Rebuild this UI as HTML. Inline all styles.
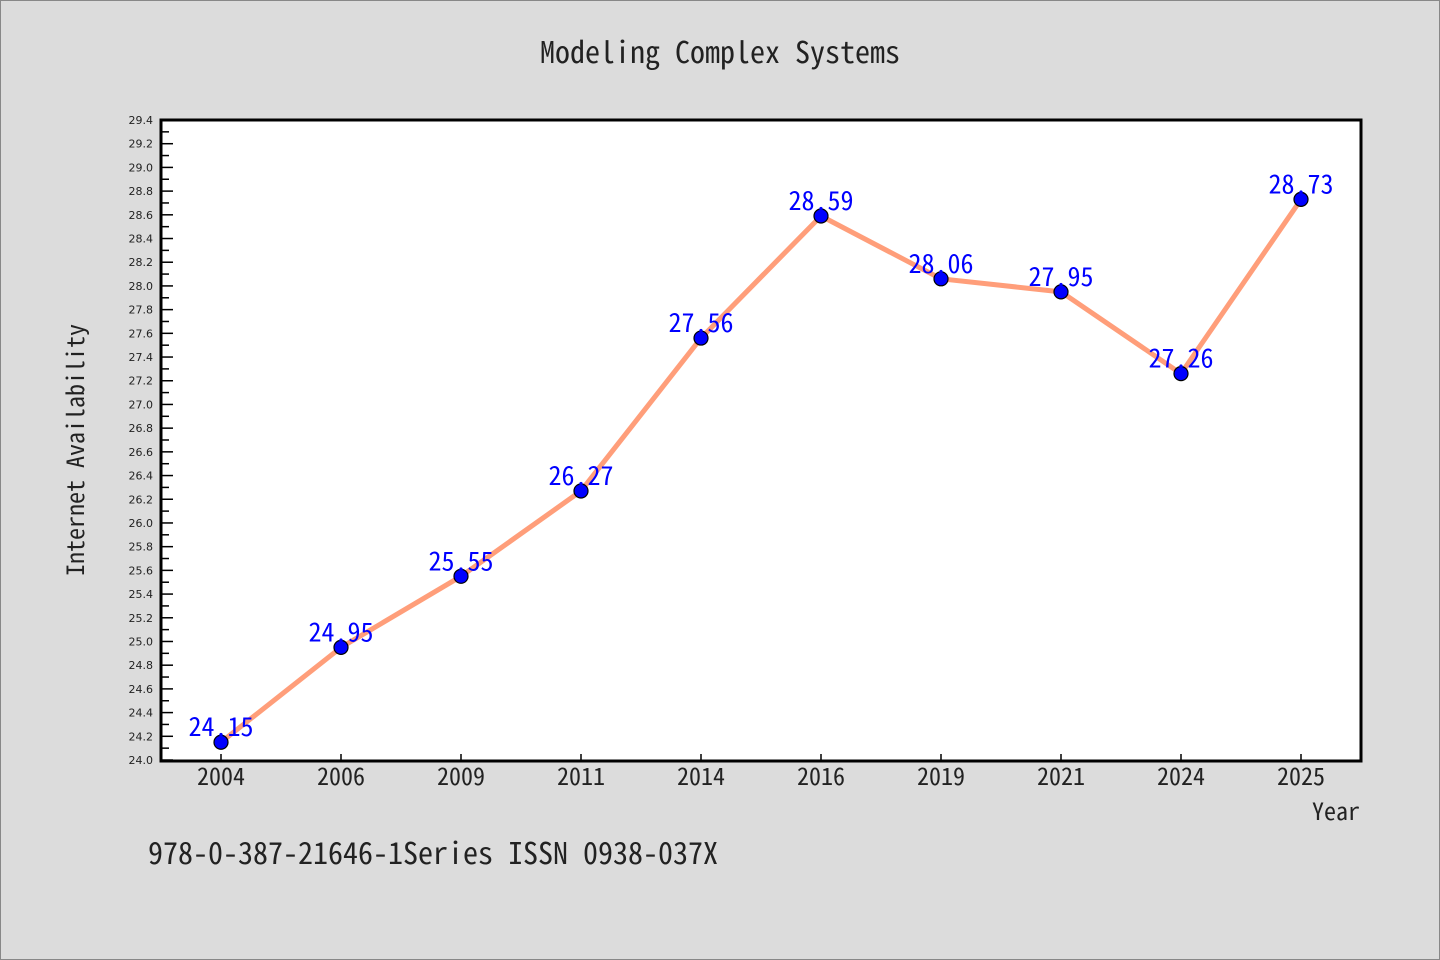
<!DOCTYPE html>
<html><head><meta charset="utf-8"><style>
body{margin:0;background:#dcdcdc;}
svg{display:block;}
text{font-family:"WenQuanYi Zen Hei Mono","Noto Sans Mono CJK SC","DejaVu Sans Mono","Liberation Mono",monospace;}
text.tk{font-family:"DejaVu Sans","Liberation Sans",sans-serif;}
</style></head><body>
<svg id="c" width="1440" height="960" xmlns="http://www.w3.org/2000/svg">
<rect x="0.5" y="0.5" width="1439" height="959" fill="#dcdcdc" stroke="#888"/>
<text x="720" y="63" font-size="30" text-anchor="middle" fill="#222">Modeling Complex Systems</text>
<rect x="161" y="120" width="1200" height="641" fill="#fff"/>
<g id="grid"></g>
<g id="series"></g>
<rect x="161" y="120" width="1200" height="641" fill="none" stroke="#000" stroke-width="3"/>
<text x="84" y="450" font-size="24" text-anchor="middle" fill="#222" transform="rotate(-90 84 450)">Internet Availability</text>
<text x="1360" y="820" font-size="24" text-anchor="end" fill="#222">Year</text>
<text x="148" y="864" font-size="30" fill="#222">978-0-387-21646-1Series ISSN 0938-037X</text>
</svg>
<script>
const categories=["2004","2006","2009","2011","2014","2016","2019","2021","2024","2025"];
const values=[24.15,24.95,25.55,26.27,27.56,28.59,28.06,27.95,27.26,28.73];
const yTicks=["24.0","24.2","24.4","24.6","24.8","25.0","25.2","25.4","25.6","25.8","26.0","26.2","26.4","26.6","26.8","27.0","27.2","27.4","27.6","27.8","28.0","28.2","28.4","28.6","28.8","29.0","29.2","29.4"];
const NS="http://www.w3.org/2000/svg";
const L=161,R=1361,T=120,B=760,yMin=24.0,yMax=29.4;
const step=(R-L)/categories.length;
const xS=i=>L+step*(i+0.5);
const yS=v=>B-(v-yMin)/(yMax-yMin)*(B-T);
function mk(t,a,p){const e=document.createElementNS(NS,t);for(const k in a)e.setAttribute(k,a[k]);p.appendChild(e);return e;}
const g=document.getElementById('grid'),s=document.getElementById('series');
yTicks.forEach((t,i)=>{const v=parseFloat(t),y=yS(v);
 const l=mk('line',{x1:L,x2:L+12,y1:y,y2:y,stroke:'#000','stroke-width':1.5},g);
 
 
 if(i<yTicks.length-1){const ym=yS(v+0.1);const m=mk('line',{x1:L,x2:L+8,y1:ym,y2:ym,stroke:'#000','stroke-width':1.5},g);
  
  }
 const tx=mk('text',{x:L-8,y:y+4,'font-size':11,'text-anchor':'end',fill:'#222','class':'tk'},g);tx.textContent=t;
 
 
});
categories.forEach((c,i)=>{const x=xS(i);
 const l=mk('line',{x1:x,x2:x,y1:B,y2:B-6,stroke:'#000','stroke-width':1.5},g);
 
 
 const tx=mk('text',{x:x,y:785,'font-size':24,'text-anchor':'middle',fill:'#222'},g);tx.textContent=c;
 
 
});
const line=mk('polyline',{points:values.map((v,i)=>xS(i)+','+yS(v)).join(' '),fill:'none',stroke:'#ff9e7a','stroke-width':5,'stroke-linejoin':'round'},s);


values.forEach((v,i)=>{
 const c=mk('circle',{cx:xS(i),cy:yS(v),r:7,fill:'#0000ff',stroke:'#000','stroke-width':1.2},s);
 
 
 const t=mk('text',{x:xS(i),y:yS(v)-6,'font-size':26,'text-anchor':'middle',fill:'#0000ff'},s);t.textContent=v.toFixed(2);
 
 
});
</script>
</body></html>
